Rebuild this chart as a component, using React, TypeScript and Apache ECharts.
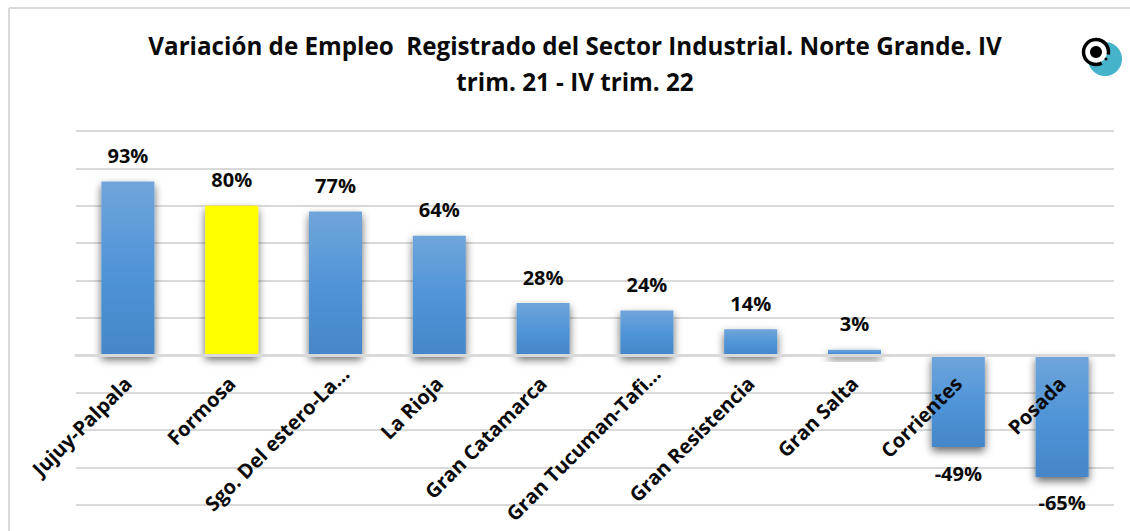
import React, { useEffect, useRef } from "react";
import * as echarts from "echarts";

const categories = ["Jujuy-Palpala", "Formosa", "Sgo. Del estero-La...", "La Rioja", "Gran Catamarca", "Gran Tucuman-Tafi...", "Gran Resistencia", "Gran Salta", "Corrientes", "Posada"];
const values = [93, 80, 77, 64, 28, 24, 14, 3, -49, -65];
const highlightIndex = 1;
const truncatedLabels = [2, 5];
const titleText = "Variación de Empleo  Registrado del Sector Industrial. Norte Grande. IV\ntrim. 21 - IV trim. 22";
const FONT = "'Open Sans', sans-serif";

export default function App() {
  const ref = useRef<HTMLDivElement>(null);
  useEffect(() => {
    const chart = echarts.init(ref.current!, null, { renderer: "svg" });
    const blue = new echarts.graphic.LinearGradient(0, 0, 0, 1, [
      { offset: 0, color: "#70a5da" },
      { offset: 0.5, color: "#5095d8" },
      { offset: 1, color: "#4487c8" },
    ]);
    chart.setOption({
      animation: false,
      backgroundColor: "#fff",
      title: {
        text: titleText,
        left: 570,
        top: 22,
        textAlign: "center",
        textStyle: { fontFamily: FONT, fontWeight: "bold", fontSize: 24.2, lineHeight: 36, color: "#0a0a0a" },
      },
      grid: { left: 76, right: 16, top: 131, bottom: 26, outerBoundsMode: "none" },
      xAxis: {
        type: "category",
        data: categories.map((c, i) =>
          truncatedLabels.includes(i) ? { value: c, textStyle: { padding: [0, -14, 0, 0] } } : { value: c }
        ),
        z: 6,
        axisLine: { show: true, onZero: true, lineStyle: { color: "#d9d9d9", width: 3 } },
        axisTick: { show: false },
        axisLabel: {
          rotate: 45,
          interval: 0,
          margin: -125,
          fontFamily: FONT,
          fontWeight: "bold",
          fontSize: 20,
          color: "#0a0a0a",
        },
      },
      yAxis: {
        type: "value",
        min: -80,
        max: 120,
        interval: 20,
        axisLabel: { show: false },
        axisLine: { show: false },
        axisTick: { show: false },
        splitLine: { lineStyle: { color: "#d9d9d9", width: 2 } },
      },
      series: [
        {
          type: "bar",
          barWidth: 53,
          data: values.map((v, i) => ({
            value: v,
            itemStyle: { color: i === highlightIndex ? "#ffff00" : blue },
          })),
          itemStyle: { shadowBlur: 8, shadowOffsetY: 4, shadowOffsetX: 0, shadowColor: "rgba(0,0,0,0.6)" },
          label: {
            show: true,
            position: "outside",
            distance: 16,
            formatter: "{c}%",
            fontFamily: FONT,
            fontWeight: "bold",
            fontSize: 20,
            color: "#0a0a0a",
          },
        },
      ],
      graphic: [
        { type: "line", shape: { x1: 9, y1: 8, x2: 9, y2: 531 }, style: { stroke: "#d9d9d9", lineWidth: 2 } },
        { type: "line", shape: { x1: 9, y1: 8, x2: 1130, y2: 8 }, style: { stroke: "#d9d9d9", lineWidth: 2 } },
        { type: "circle", shape: { cx: 1105, cy: 59, r: 17 }, style: { fill: "#45b3c9" } },
        { type: "circle", shape: { cx: 1096, cy: 52, r: 11 }, style: { fill: "#fff" } },
        { type: "circle", shape: { cx: 1096, cy: 52, r: 6 }, style: { fill: "#000" } },
        { type: "circle", shape: { cx: 1106, cy: 59, r: 1.5 }, style: { fill: "#000" } },
        { type: "arc", shape: { cx: 1096, cy: 52, r: 12.5, startAngle: 0.2, endAngle: 1.1, clockwise: false }, style: { stroke: "#000", lineWidth: 3.5, fill: "none" } },
      ],
    });
    return () => chart.dispose();
  }, []);
  return <div ref={ref} style={{ position: "absolute", left: 0, top: 0, width: 1130, height: 531 }} />;
}
